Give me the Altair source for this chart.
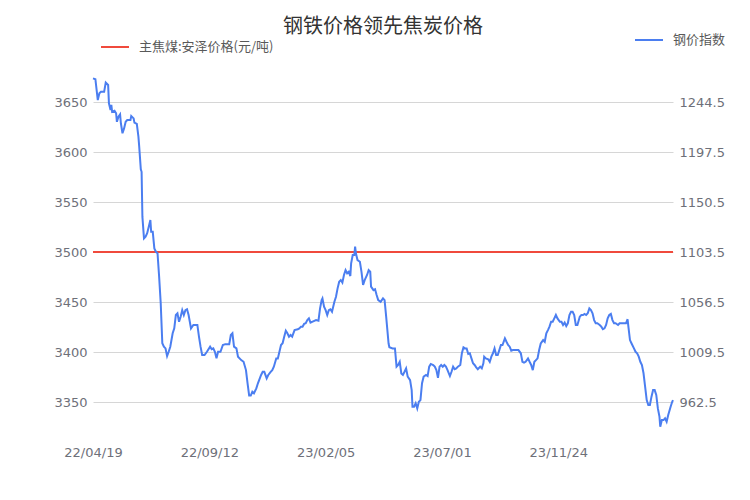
import altair as alt
import pandas as pd

title_text = "钢铁价格领先焦炭价格"
coal_name = "主焦煤:安泽价格(元/吨)"
steel_name = "钢价指数"

start_date = "2022-04-19"
end_date = "2024-04-16"

steel_day_offsets = [
    0, 3, 6, 8, 10, 14, 16, 19, 20, 22, 23, 24, 27, 29, 30, 32, 34, 35, 37, 39,
    41, 43, 47, 48, 51, 52, 55, 57, 58, 60, 61, 62, 64, 66, 68, 70, 72, 73, 75, 77,
    79, 81, 83, 85, 87, 89, 91, 93, 95, 97, 100, 102, 104, 106, 108, 110, 112, 114, 116, 118,
    120, 123, 126, 131, 133, 135, 137, 140, 143, 147, 149, 151, 153, 155, 157, 160, 163, 166, 171, 173,
    175, 177, 180,
    182, 186, 189, 192, 194, 196, 198, 200, 202, 205, 207, 211, 213, 215, 218, 220, 223, 225, 227, 230,
    232, 234, 236, 238, 240, 242, 244, 246, 248, 250, 253, 257, 259, 261, 263, 265, 267, 269, 271, 273,
    275, 280, 283, 285, 287, 288, 290, 292, 294, 296, 298, 300, 303, 305, 307, 309, 311, 313, 315, 317,
    319, 321, 323, 324, 326, 328, 329, 330, 332, 335, 337, 339, 341, 344, 346, 348, 349, 352, 354, 356,
    358, 361, 364,
    366, 368, 371, 372, 376, 379, 381, 383, 385, 387, 389, 391, 393, 395, 398, 400, 401, 403, 405, 407,
    409, 411, 413, 415, 418, 420, 422, 424, 427, 429, 431, 433, 435, 437, 439, 441, 443, 445, 448, 450,
    452, 454, 456, 458, 461, 463, 465, 467, 469, 471, 473, 475, 477, 479, 481, 483, 486, 488, 490, 491,
    493, 496, 498, 500, 502, 504, 506, 508, 510, 512, 514, 517, 519, 521, 523, 525, 527, 530, 534, 537,
    539, 541, 543, 546, 548, 550, 552, 554, 556, 558, 560, 562, 565, 567, 569, 571, 573, 575, 577, 579,
    581, 583, 586, 588, 590, 592, 594, 596, 598, 600, 602, 604, 606, 608, 611, 613, 615, 617, 619, 621,
    623, 625, 627, 629, 631, 633, 636, 638, 640, 642, 644, 646, 648, 650, 652, 654, 656, 659, 661, 663,
    665, 667, 669, 671, 672, 674, 676, 679, 681, 683, 685, 687, 689, 691, 693, 695, 697, 699, 701, 703,
    705, 707, 709, 711, 712, 714, 716, 718, 720, 722, 725, 727, 728,
]

steel_values = [
    1266.7, 1265.9, 1246.3, 1252.7, 1254.1, 1254.1, 1262.7, 1260.5, 1243.3, 1236.9,
    1241.7, 1235.3, 1236.3, 1233.9, 1225.9, 1230.7, 1232.9, 1224.5, 1215.1, 1219.7,
    1225.9, 1227.5, 1227.5, 1231.3, 1229.1, 1225.1, 1223.9, 1211.9, 1202.5, 1181.3,
    1178.9, 1136.7, 1116.3, 1117.9, 1121.1, 1127.3, 1133.5, 1122.5, 1122.5, 1106.9,
    1103.7, 1102.3, 1080.3, 1055.3, 1017.7, 1014.5, 1012.9, 1005.7, 1009.7, 1014.5,
    1027.1, 1031.7, 1044.3, 1045.9, 1037.9, 1042.7, 1048.9, 1044.3, 1048.9, 1049.7,
    1044.3, 1031.7, 1034.9, 1034.9, 1023.9, 1014.5, 1006.7, 1006.7, 1009.7, 1014.5,
    1012.1, 1012.9, 1009.7, 1003.5, 1009.7, 1009.7, 1016.1, 1016.9, 1016.9, 1025.5,
    1027.1, 1014.5, 1012.9,
    1005.1, 1001.9, 1000.3, 992.5, 980.1, 968.5, 968.5, 972.1, 970.7, 975.3,
    980.1, 987.9, 990.9, 990.9, 984.7, 987.9, 990.9, 992.5, 995.7, 1003.5,
    1003.5, 1009.7, 1016.1, 1017.7, 1023.9, 1029.5, 1027.1, 1023.9, 1025.5, 1023.9,
    1030.1, 1030.9, 1031.7, 1033.3, 1033.3, 1035.9, 1036.5, 1039.5, 1041.1, 1037.1,
    1037.9, 1039.5, 1038.9, 1050.5, 1058.3, 1059.9, 1052.1, 1048.9, 1044.3, 1048.9,
    1049.7, 1047.3, 1056.7, 1061.5, 1069.3, 1075.5, 1077.1, 1074.7, 1081.9, 1086.5,
    1083.5, 1084.9, 1080.9, 1092.9, 1100.7, 1100.7, 1108.5, 1102.3, 1095.9, 1094.3,
    1084.9, 1072.5, 1077.1, 1081.9, 1086.5, 1084.9, 1070.9, 1067.7, 1068.5, 1063.1,
    1058.3, 1056.7, 1059.9,
    1058.3, 1042.5, 1017.5, 1013.9, 1012.9, 1012.9, 995.7, 997.3, 1000.3, 989.3,
    987.9, 990.9, 994.1, 986.3, 983.1, 973.7, 958.1, 958.1, 961.3, 956.5,
    962.7, 964.3, 980.1, 986.3, 987.9, 986.9, 995.7, 998.3, 997.3, 995.7,
    992.5, 985.3, 995.7, 997.3, 995.7, 997.3, 995.7, 992.5, 986.9, 990.9,
    995.7, 993.3, 994.1, 995.7, 997.3, 1008.3, 1013.9, 1012.9, 1012.9, 1007.7,
    1008.3, 1003.5, 998.9, 997.3, 995.1, 993.3, 995.7, 994.1, 998.9, 1005.1,
    1003.5, 1002.7, 1000.3, 1005.1, 1008.3, 1012.9, 1006.7, 1006.7, 1011.3, 1016.1,
    1016.1, 1022.3, 1019.1, 1016.1, 1014.5, 1010.7, 1011.3, 1011.3, 1011.3, 1008.3,
    1000.3, 999.5, 1000.3, 1003.5, 1000.3, 997.3, 992.5, 1000.3, 1001.9, 1003.5,
    1011.3, 1017.5, 1020.7, 1019.1, 1027.1, 1030.1, 1033.3, 1037.9, 1037.9, 1041.1,
    1044.3, 1041.1, 1037.9, 1037.9, 1034.9, 1037.1, 1033.9, 1036.5, 1044.3, 1047.3,
    1047.3, 1044.3, 1034.9, 1034.9, 1042.7, 1044.3, 1044.3, 1045.3, 1044.3, 1045.9,
    1050.5, 1048.9, 1045.9, 1039.5, 1036.5, 1036.5, 1034.9, 1033.3, 1030.9, 1031.7,
    1034.9, 1041.1, 1044.3, 1045.3, 1039.5, 1036.5, 1036.5, 1034.9, 1036.5, 1036.5,
    1036.5, 1036.5, 1036.5, 1040.3, 1033.3, 1020.7, 1017.5, 1012.9, 1009.7, 1008.3,
    1005.1, 1000.3, 997.3, 989.5, 976.9, 964.3, 959.7, 959.7, 967.5, 973.7,
    973.7, 969.1, 956.5, 948.7, 939.3, 945.5, 945.5, 947.1, 943.9, 950.3,
    958.1, 962.7, 964.3,
]

coal_dates = ["2022-04-19", "2024-04-16"]
coal_values = [3500, 3500]

left_ticks = [3350, 3400, 3450, 3500, 3550, 3600, 3650]
right_ticks = [962.5, 1009.5, 1056.5, 1103.5, 1150.5, 1197.5, 1244.5]
x_tick_dates = [(2022, 4, 19), (2022, 9, 12), (2023, 2, 5), (2023, 7, 1), (2023, 11, 24)]

steel_df = pd.DataFrame({
    "date": pd.to_datetime(start_date) + pd.to_timedelta(steel_day_offsets, unit="D"),
    "value": steel_values,
    "series": steel_name,
})
coal_df = pd.DataFrame({
    "date": pd.to_datetime(coal_dates),
    "value": coal_values,
    "series": coal_name,
})

FONT = "DejaVu Sans"
CJK = "Noto Sans CJK SC"
LABEL_COLOR = "#6e7079"
RED = "#f04a3c"
BLUE = "#4b7ef0"

x_scale = alt.Scale(domain=[alt.DateTime(year=2022, month=4, date=19),
                            alt.DateTime(year=2024, month=4, date=16)])
x_axis = alt.Axis(
    values=[alt.DateTime(year=y, month=m, date=d) for (y, m, d) in x_tick_dates],
    format="%y/%m/%d", title=None, grid=False, ticks=False, domain=False,
    labelFlush=False, labelOverlap=False, labelPadding=8,
    labelFont=FONT, labelFontSize=13, labelColor=LABEL_COLOR,
)

coal = alt.Chart(coal_df).mark_line(strokeWidth=2).encode(
    x=alt.X("date:T", scale=x_scale, axis=x_axis),
    y=alt.Y("value:Q", scale=alt.Scale(domain=[3314, 3682], nice=False, zero=False),
            axis=alt.Axis(values=left_ticks, orient="left", title=None, grid=True,
                          gridColor="#d6d6d6", gridWidth=1, ticks=False, domain=False,
                          labelPadding=6, labelFont=FONT, labelFontSize=13,
                          labelColor=LABEL_COLOR, format="d")),
    color=alt.Color("series:N",
                    scale=alt.Scale(domain=[coal_name], range=[RED]),
                    legend=alt.Legend(title=None, orient="none", legendX=7, legendY=-38,
                                      symbolType="stroke", symbolSize=784,
                                      symbolStrokeWidth=2, labelOffset=9,
                                      labelFont=CJK, labelFontSize=13,
                                      labelColor="#595959", padding=0)),
)

steel = alt.Chart(steel_df).mark_line(strokeWidth=2).encode(
    x=alt.X("date:T", scale=x_scale, axis=x_axis),
    y=alt.Y("value:Q", scale=alt.Scale(domain=[928.66, 1274.58], nice=False, zero=False),
            axis=alt.Axis(values=right_ticks, orient="right", title=None, grid=False,
                          ticks=False, domain=False, labelPadding=6, labelFont=FONT,
                          labelFontSize=13, labelColor=LABEL_COLOR, format=".1f")),
    color=alt.Color("series:N",
                    scale=alt.Scale(domain=[steel_name], range=[BLUE]),
                    legend=alt.Legend(title=None, orient="none", legendX=541, legendY=-45,
                                      symbolType="stroke", symbolSize=784,
                                      symbolStrokeWidth=2, labelOffset=9,
                                      labelFont=CJK, labelFontSize=13,
                                      labelColor="#595959", padding=0)),
)

chart = alt.layer(coal, steel).resolve_scale(
    y="independent", color="independent"
).resolve_legend(color="independent").properties(
    width=580,
    height=368,
    title=alt.TitleParams(title_text, font=CJK, fontSize=20, fontWeight="normal",
                          color="#333333", anchor="middle", frame="group", offset=-12),
    autosize=alt.AutoSizeParams(type="none"),
    padding={"left": 85, "top": 62, "right": 69, "bottom": 54},
).configure_view(stroke=None)

chart.save("out.html", embed_options={"renderer": "svg", "actions": False})
